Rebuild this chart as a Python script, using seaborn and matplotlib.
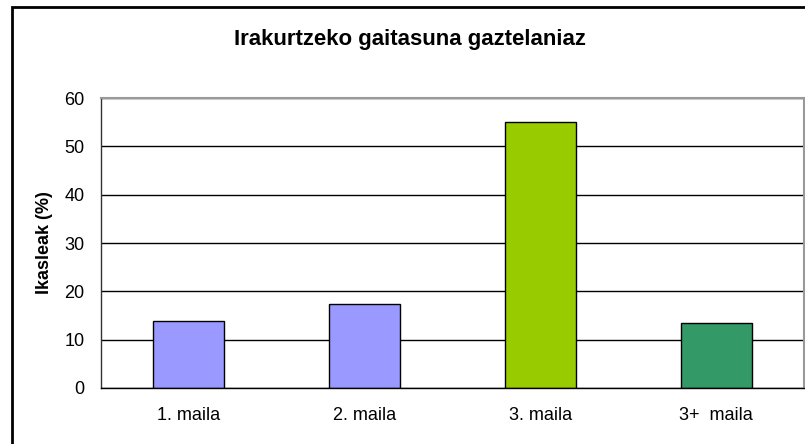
import matplotlib
matplotlib.use("Agg")
import matplotlib.pyplot as plt
import seaborn as sns
import pandas as pd
from matplotlib.patches import Rectangle

# datuak
categories = ['1. maila', '2. maila', '3. maila', '3+  maila']
values = [13.9, 17.4, 55.0, 13.4]
colors = ['#9999FF', '#9999FF', '#99CC00', '#339966']

sns.set_style('white')
plt.rcParams['font.family'] = ['Liberation Sans', 'DejaVu Sans']
plt.rcParams['text.color'] = 'black'
plt.rcParams['axes.labelcolor'] = 'black'
plt.rcParams['xtick.color'] = 'black'
plt.rcParams['ytick.color'] = 'black'

df = pd.DataFrame({'maila': categories, 'ikasleak': values})

fig = plt.figure(figsize=(8.05, 4.44), dpi=100)
ax = fig.add_axes([101 / 805, 1 - 388 / 444, 703 / 805, 290 / 444])

sns.barplot(data=df, x='maila', y='ikasleak', hue='maila', palette=colors,
            legend=False, width=0.405, edgecolor='black', linewidth=1,
            saturation=1, ax=ax)

ax.set_ylim(0, 60)
ax.set_yticks(range(0, 61, 10))
ax.set_xlim(-0.5, 3.5)
ax.yaxis.grid(True, color='black', linewidth=1)
ax.set_axisbelow(True)

# x ardatzeko marrak kategorien artean
ax.set_xticks([-0.5, 0.5, 1.5, 2.5, 3.5], minor=False)
ax.set_xticklabels([])
ax.set_xticks(range(len(categories)), minor=True)
ax.set_xticklabels(categories, minor=True)
ax.tick_params(axis='x', which='major', direction='out', length=5, width=1, color='#555555')
ax.tick_params(axis='x', which='minor', length=0, pad=14, labelsize=13)
ax.tick_params(axis='y', direction='out', length=5, width=1, color='#333333',
               labelsize=13, pad=7)

for side in ['top', 'right']:
    ax.spines[side].set_color('#999999')
    ax.spines[side].set_linewidth(1.5)
ax.spines['left'].set_color('#333333')
ax.spines['bottom'].set_color('black')
for side in ['left', 'bottom']:
    ax.spines[side].set_linewidth(1)

ax.set_xlabel('')
ax.set_ylabel('Ikasleak (%)', fontsize=13, fontweight='bold', labelpad=8)

fig.text(410 / 805, 1 - 40 / 444, 'Irakurtzeko gaitasuna gaztelaniaz',
         ha='center', va='center', fontsize=16, fontweight='bold')

# kanpoko markoa
fig.patches.append(Rectangle((12 / 805, -0.2), 1.2, 1.2 - 7 / 444,
                             transform=fig.transFigure, fill=False,
                             edgecolor='black', linewidth=2))

fig.savefig('out.png', dpi=100)
